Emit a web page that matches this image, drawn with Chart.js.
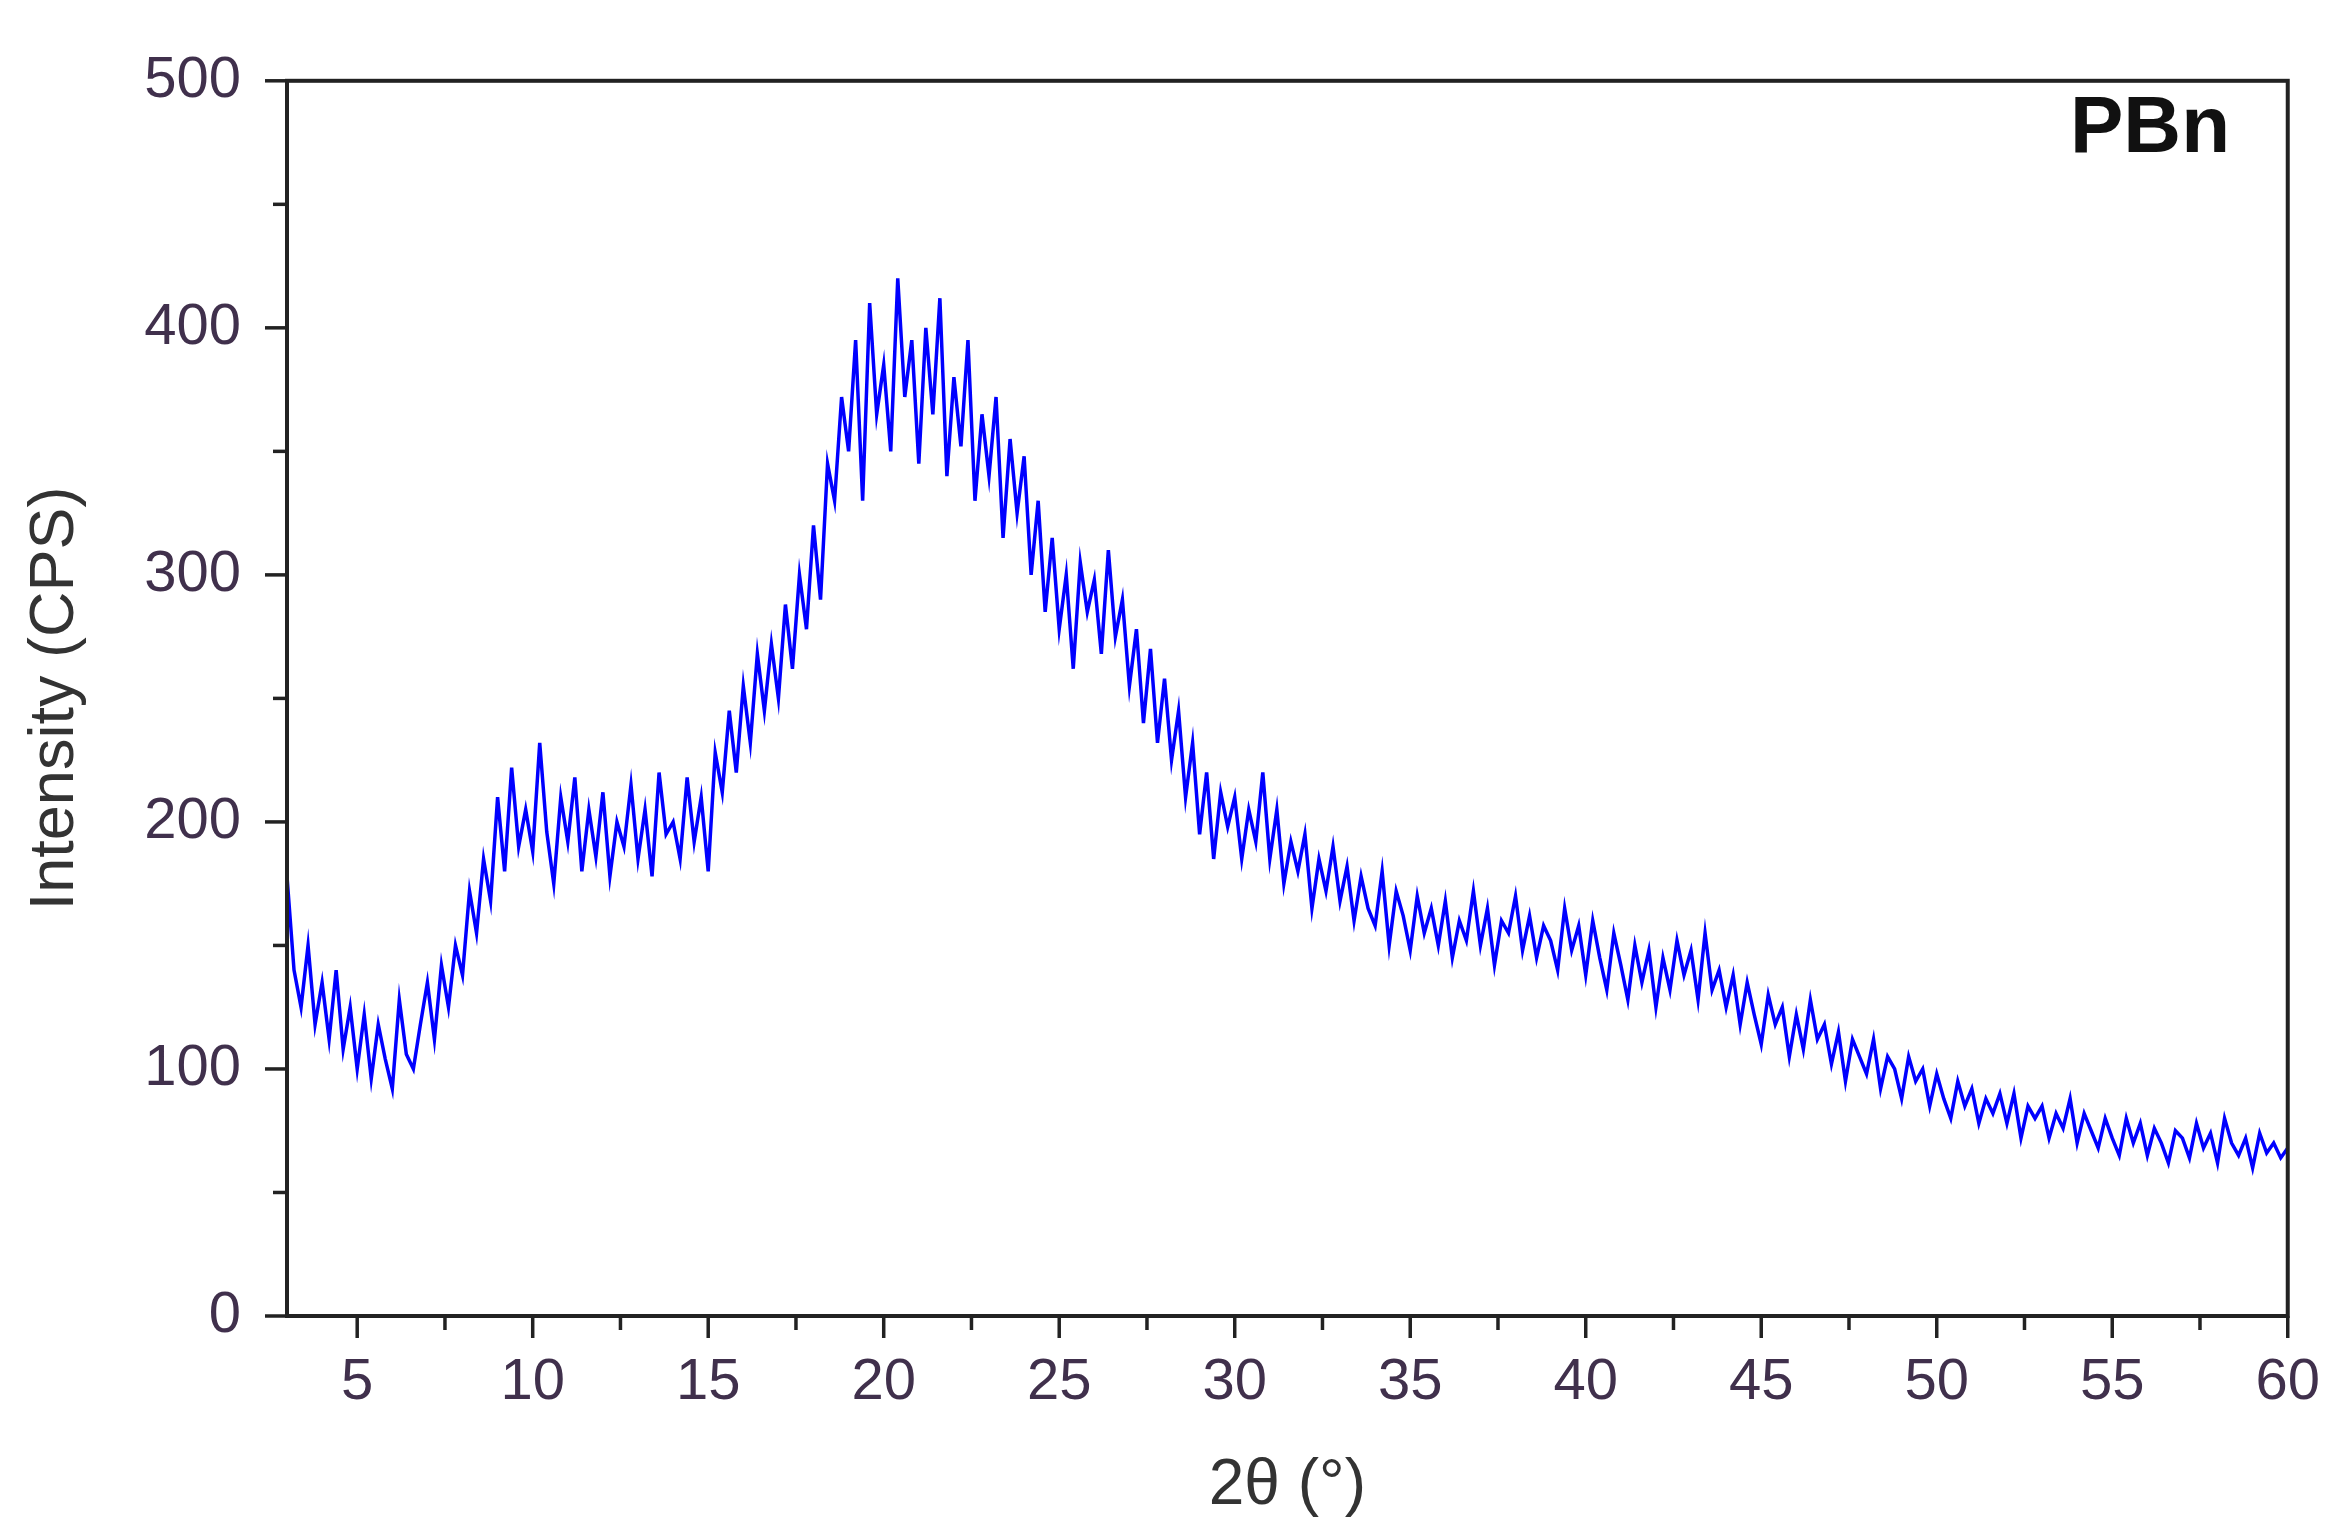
<!DOCTYPE html>
<html><head><meta charset="utf-8">
<script src="https://cdn.jsdelivr.net/npm/chart.js@4"></script>
<style>html,body{margin:0;padding:0;background:#fff}#c{display:block}</style>
</head><body>
<canvas id="c" width="2352" height="1533"></canvas>
<script>
const xStart = 3, xStep = 0.2;
const intensity = [
178,140,125,150,118, 135,112,140,108,125, 100,122,96,118,104, 92,128,106,100,118,
135,112,142,125,150, 138,172,155,185,168, 210,180,222,190,205, 188,232,196,175,210,
192,218,180,205,186, 212,178,200,190,215, 185,205,178,220,195, 200,185,218,192,210,
180,228,212,245,220, 255,232,268,245,272, 250,288,262,300,278, 320,290,345,330,372,
350,395,330,410,365, 385,350,420,372,395, 345,400,365,412,340, 380,352,395,330,365,
340,372,315,355,325, 348,300,330,285,315, 278,300,262,305,285, 298,268,310,275,290,
255,278,240,270,232, 258,225,245,210,232, 195,220,185,212,198, 210,185,205,192,220,
185,205,175,192,180, 195,165,185,172,190, 168,182,160,178,165, 158,180,150,172,162,
148,170,155,165,150, 168,145,160,152,172, 150,165,142,160,155, 170,148,162,145,158,
152,140,165,148,158, 138,160,145,132,155, 142,128,150,135,148, 125,145,132,152,138,
148,128,155,132,140, 125,138,118,135,122, 110,130,118,125,105, 122,108,128,112,118,
102,115,95,112,105, 98,112,92,105,100, 88,105,95,100,85, 98,88,80,95,85,
92,78,88,82,90, 78,90,72,85,80, 85,72,82,76,88, 70,82,75,68,80,
72,65,80,70,78, 65,76,70,62,75, 72,64,78,68,74, 62,80,70,65,72, 60,74,66,70,64, 68
];
const xTicks = [5,10,15,20,25,30,35,40,45,50,55,60];
const yTicks = [0,100,200,300,400,500];
const label = "PBn";

const points = intensity.map((v,i)=>({x:+(xStart+i*xStep).toFixed(2), y:v}));
const tickColor = '#40304c';
const font = "'Liberation Sans', Arial, sans-serif";

const frame = {
  id:'frame',
  afterDatasetsDraw(chart){
    const {ctx, chartArea:a, scales:{x,y}} = chart;
    ctx.save();
    ctx.strokeStyle='#222'; ctx.lineWidth=4;
    ctx.strokeRect(a.left,a.top,a.right-a.left,a.bottom-a.top);
    ctx.lineWidth=3.5;
    for(let v=5; v<=60; v+=2.5){
      const px=x.getPixelForValue(v), len=(v%5===0)?22:14;
      ctx.beginPath(); ctx.moveTo(px,a.bottom); ctx.lineTo(px,a.bottom+len); ctx.stroke();
    }
    for(let v=0; v<=500; v+=50){
      const py=y.getPixelForValue(v), len=(v%100===0)?22:14;
      ctx.beginPath(); ctx.moveTo(a.left,py); ctx.lineTo(a.left-len,py); ctx.stroke();
    }
    ctx.fillStyle='#111'; ctx.font="bold 80px "+font;
    ctx.textAlign='center'; ctx.textBaseline='middle';
    ctx.fillText(label, 2150, 130);
    ctx.restore();
  }
};

new Chart(document.getElementById('c'), {
  type:'line',
  data:{datasets:[{data:points, borderColor:'#0000ff', borderWidth:3.5, pointRadius:0, tension:0, fill:false}]},
  options:{
    responsive:false, animation:false, devicePixelRatio:1,
    layout:{padding:{top:34,right:49,left:0,bottom:0}},
    plugins:{legend:{display:false},tooltip:{enabled:false}},
    scales:{
      x:{type:'linear',min:3,max:60,
        afterFit(s){s.height=217;},
        afterBuildTicks(s){s.ticks=xTicks.map(v=>({value:v}));},
        grid:{display:false,drawTicks:false},border:{display:false},
        ticks:{color:tickColor,font:{family:font,size:58},padding:32,maxRotation:0,autoSkip:false},
        title:{display:true,text:'2θ (°)',color:'#333',font:{family:font,size:64},padding:{top:0,bottom:8}}},
      y:{min:0,max:500,
        afterFit(s){s.width=287;},
        afterBuildTicks(s){s.ticks=yTicks.map(v=>({value:v}));},
        grid:{display:false,drawTicks:false},border:{display:false},
        ticks:{color:tickColor,font:{family:font,size:58},padding:46},
        title:{display:true,text:'Intensity (CPS)',color:'#333',font:{family:font,size:63},padding:{top:18,bottom:0}}}
    }
  },
  plugins:[frame]
});
</script>
</body></html>
